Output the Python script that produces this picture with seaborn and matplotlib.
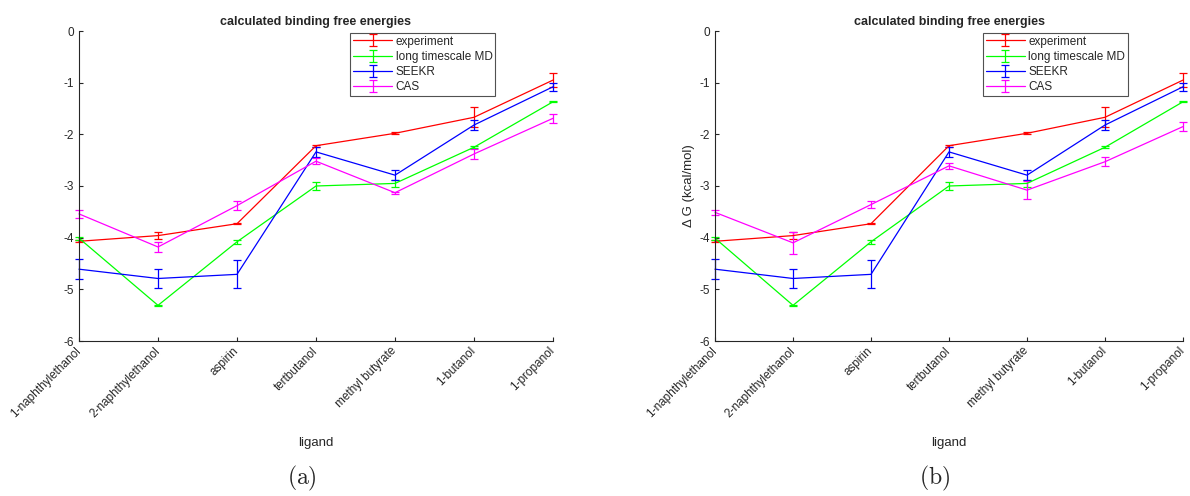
import matplotlib
matplotlib.use("Agg")
import matplotlib.pyplot as plt
import numpy as np
import seaborn as sns
import pandas as pd

ligands = ['1-naphthylethanol', '2-naphthylethanol', 'aspirin', 'tertbutanol',
           'methyl butyrate', '1-butanol', '1-propanol']
methods = ['experiment', 'long timescale MD', 'SEEKR', 'CAS']
colors = ['#ff0000', '#00ff00', '#0000ff', '#ff00ff']

# values (kcal/mol)
experiment = [-4.07, -3.96, -3.73, -2.22, -1.98, -1.67, -0.95]
experiment_err = [0.02, 0.07, 0.01, 0.02, 0.02, 0.19, 0.13]
md = [-4.01, -5.31, -4.08, -3.00, -2.95, -2.25, -1.37]
md_err = [0.03, 0.01, 0.04, 0.07, 0.06, 0.02, 0.01]
seekr = [-4.61, -4.79, -4.71, -2.34, -2.79, -1.82, -1.08]
seekr_err = [0.19, 0.18, 0.27, 0.10, 0.10, 0.09, 0.08]
cas_a = [-3.54, -4.18, -3.38, -2.52, -3.13, -2.38, -1.69]
cas_a_err = [0.08, 0.10, 0.09, 0.06, 0.02, 0.10, 0.09]
cas_b = [-3.51, -4.10, -3.36, -2.61, -3.08, -2.53, -1.85]
cas_b_err = [0.05, 0.21, 0.07, 0.06, 0.18, 0.09, 0.09]

sns.set_style("ticks")
plt.rcParams['font.family'] = ['Liberation Sans', 'DejaVu Sans']
plt.rcParams['axes.unicode_minus'] = False
plt.rcParams['mathtext.fontset'] = 'cm'


def make_df(cas, cas_err):
    vals = [experiment, md, seekr, cas]
    errs = [experiment_err, md_err, seekr_err, cas_err]
    rows = []
    for m, v, e in zip(methods, vals, errs):
        for i, lig in enumerate(ligands):
            rows.append({'method': m, 'ligand': lig, 'pos': i, 'dG': v[i], 'err': e[i]})
    return pd.DataFrame(rows)


fig = plt.figure(figsize=(11.9, 4.96), dpi=100)
W, H = 1190, 496
panels = [
    (make_df(cas_a, cas_a_err), 79, 553, False, '(a)'),
    (make_df(cas_b, cas_b_err), 715, 1183, True, '(b)'),
]

for df, x0, x1, show_ylabel, tag in panels:
    ax = fig.add_axes([x0 / W, 1 - 341 / H, (x1 - x0) / W, (341 - 31) / H])
    for m, c in zip(methods, colors):
        d = df[df['method'] == m]
        ax.errorbar(d['pos'], d['dG'], yerr=d['err'], color=c, lw=0.9,
                    elinewidth=0.9, capsize=3, capthick=0.9, label=m,
                    clip_on=False)
    ax.set_xlim(0, len(ligands) - 1)
    ax.set_ylim(-6, 0)
    ax.set_xticks(range(len(ligands)))
    ax.set_xticklabels(ligands, rotation=45, ha='right', va='center',
                       rotation_mode='anchor', fontsize=8.5, color='#262626')
    ax.set_yticks(range(-6, 1))
    ax.tick_params(axis='y', labelsize=8.5, labelcolor='#262626')
    ax.tick_params(direction='in', length=3, width=0.8, color='#262626')
    ax.tick_params(axis='x', pad=6)
    sns.despine(ax=ax)
    for s in ['left', 'bottom']:
        ax.spines[s].set_color('#262626')
        ax.spines[s].set_linewidth(0.8)
    ax.set_title('calculated binding free energies', fontsize=9,
                 fontweight='bold', pad=4)
    ax.set_xlabel('ligand', fontsize=9.5, color='#262626', labelpad=12)
    if show_ylabel:
        ax.set_ylabel('Δ G (kcal/mol)', fontsize=9.5, color='#262626', labelpad=3)
    leg = ax.legend(loc='upper left', bbox_to_anchor=(0.572, 0.995),
                    fontsize=8.5, frameon=True, fancybox=False, borderpad=0.25,
                    labelspacing=0.28, handlelength=3.3, handletextpad=0.3,
                    borderaxespad=0)
    leg.get_frame().set_edgecolor('#262626')
    leg.get_frame().set_linewidth(0.8)
    fig.text((x0 + x1) / 2 / W - 0.012, 1 - 478 / H, r'$\mathrm{' + tag + '}$',
             ha='center', va='center', fontsize=17)

fig.savefig('out.png', dpi=100)
